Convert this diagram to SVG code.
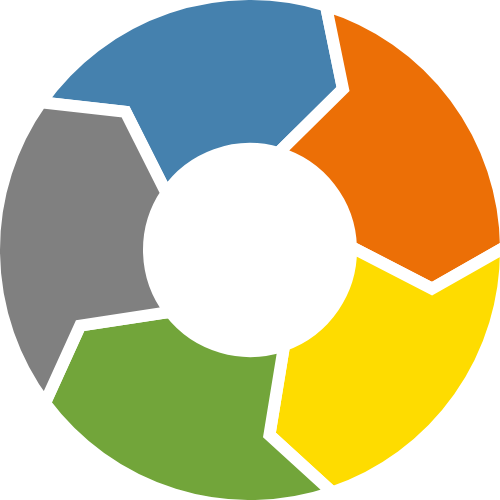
<svg xmlns="http://www.w3.org/2000/svg" width="500" height="500" viewBox="0 0 500 500">
  <style>
    .seg { stroke: #FFFFFF; stroke-width: 12; stroke-linejoin: miter; stroke-miterlimit: 10; }
    .blue { fill: #4581AE; }
    .orange { fill: #EC6F06; }
    .yellow { fill: #FEDC00; }
    .green { fill: #72A53A; }
    .gray { fill: #808080; }
  </style>
  <rect width="500" height="500" fill="#FFFFFF"/>
  <g id="connectors"></g>
  <g id="segment-blue">
    <path class="seg blue" d="M40.90,102.31 A256,256 0 0 1 325.88,5.50 L343.00,88.92 L278.23,153.03 A101,101 0 0 0 166.50,193.18 L125.54,111.78 Z"/>
  </g>
  <g id="segment-orange">
    <path class="seg orange" d="M325.88,5.50 A256,256 0 0 1 505.98,246.61 L431.94,288.67 L350.95,246.88 A101,101 0 0 0 278.23,153.03 L343.00,88.92 Z"/>
  </g>
  <g id="segment-yellow">
    <path class="seg yellow" d="M505.98,246.61 A256,256 0 0 1 332.33,492.41 L269.44,434.98 L284.16,345.05 A101,101 0 0 0 350.95,246.88 L431.94,288.67 Z"/>
  </g>
  <g id="segment-green">
    <path class="seg green" d="M332.33,492.41 A256,256 0 0 1 44.88,403.17 L80.08,325.65 L170.15,311.84 A101,101 0 0 0 284.16,345.05 L269.44,434.98 Z"/>
  </g>
  <g id="segment-gray">
    <path class="seg gray" d="M44.88,403.17 A256,256 0 0 1 40.90,102.31 L125.54,111.78 L166.50,193.18 A101,101 0 0 0 170.15,311.84 L80.08,325.65 Z"/>
  </g>
</svg>
